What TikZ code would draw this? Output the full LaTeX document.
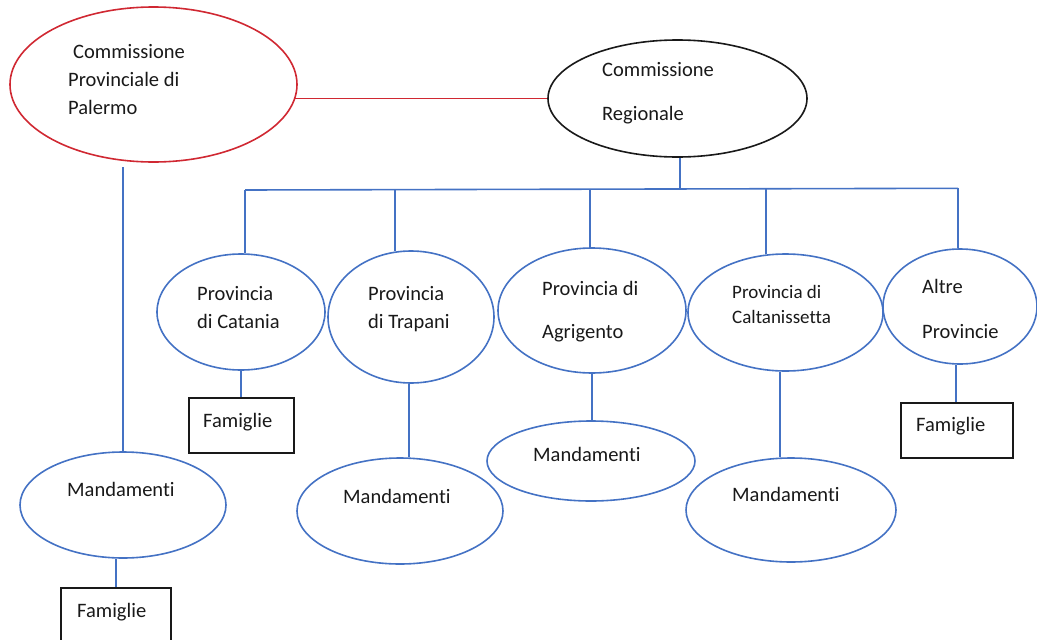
\documentclass[tikz,border=0pt]{standalone}
\usepackage{fontspec}
\setmainfont[Ligatures=NoCommon]{Carlito}
\usetikzlibrary{shapes.geometric,calc}
\definecolor{offblue}{RGB}{68,114,196}
\definecolor{offred}{RGB}{208,40,50}
\definecolor{txtcol}{RGB}{25,25,25}
\tikzset{
  ell/.style={ellipse, draw=offblue, line width=1.6pt, inner sep=0pt},
  famb/.style={rectangle, draw=txtcol, line width=1.7pt, inner sep=0pt},
  lbl/.style={anchor=base west, inner sep=0pt, text=txtcol, font=\fontsize{20.5}{24}\selectfont},
  slbl/.style={lbl, font=\fontsize{19}{22}\selectfont},
  conn/.style={draw=offblue, line width=1.6pt},
}
\begin{document}
\begin{tikzpicture}[x=1pt,y=-1pt]
\useasboundingbox (0,0) rectangle (1037,640);
\clip (0,0) rectangle (1037,640);
% top level
\node[ell, draw=offred, minimum width=287pt, minimum height=155pt] (pal) at (153.5,84.5) {};
\node[ell, draw=black!90, minimum width=259pt, minimum height=117pt] (reg) at (677.5,98.5) {};
\node[lbl] (tpal1) at (73,58) {Commissione};
\node[lbl] (tpal2) at (68,86) {Provinciale di};
\node[lbl] (tpal3) at (68,114) {Palermo};
\node[lbl] (treg1) at (602,76) {Commissione};
\node[lbl] (treg2) at (602,120) {Regionale};
% provinces
\node[ell, minimum width=168pt, minimum height=116pt] (cat) at (241,312) {};
\node[ell, minimum width=166pt, minimum height=132pt] (tra) at (411,317) {};
\node[ell, minimum width=188pt, minimum height=125pt] (agr) at (592,310.5) {};
\node[ell, minimum width=195pt, minimum height=117pt] (cal) at (785.5,312.5) {};
\node[ell, minimum width=154pt, minimum height=115pt] (alt) at (960,306.5) {};
\node[lbl] (tcat1) at (197,300) {Provincia};
\node[lbl] (tcat2) at (197,328) {di Catania};
\node[lbl] (ttra1) at (368,300) {Provincia};
\node[lbl] (ttra2) at (368,328) {di Trapani};
\node[lbl] (tagr1) at (542,295) {Provincia di};
\node[lbl] (tagr2) at (542,338) {Agrigento};
\node[slbl] (tcal1) at (732,298) {Provincia di};
\node[slbl] (tcal2) at (732,323) {Caltanissetta};
\node[lbl] (talt1) at (922,293) {Altre};
\node[lbl] (talt2) at (922,338) {Provincie};
% lower level
\node[ell, minimum width=206pt, minimum height=106pt] (mpal) at (123,505) {};
\node[ell, minimum width=206pt, minimum height=106pt] (mtra) at (400,511) {};
\node[ell, minimum width=208pt, minimum height=80pt] (magr) at (591,461) {};
\node[ell, minimum width=210pt, minimum height=104pt] (mcal) at (791,510) {};
\node[lbl] (tmpal) at (67,496) {Mandamenti};
\node[lbl] (tmtra) at (343,503) {Mandamenti};
\node[lbl] (tmagr) at (533,461) {Mandamenti};
\node[lbl] (tmcal) at (732,501) {Mandamenti};
\node[famb, minimum width=105pt, minimum height=55pt] (fcat) at (241.5,425.5) {};
\node[famb, minimum width=112pt, minimum height=55pt] (falt) at (957,430.5) {};
\node[famb, minimum width=110pt, minimum height=70pt] (fpal) at (116,623) {};
\node[lbl] (tfcat) at (203,427) {Famiglie};
\node[lbl] (tfalt) at (916,431) {Famiglie};
\node[lbl] (tfpal) at (77,617) {Famiglie};
% connectors
\draw[draw=offred, line width=1.3pt] (reg.west) -- ($(pal.east |- reg.west)+(-3,0)$);
\coordinate (hub) at (680,189);
\coordinate (d1) at (245,190);
\coordinate (d2) at (395,189.8);
\coordinate (d3) at (590,189.3);
\coordinate (d4) at (766,188.8);
\coordinate (d5) at (958,188.3);
\coordinate (p0) at (123,167);
\coordinate (x2) at (409,0);
\coordinate (x4) at (780,0);
\coordinate (x5) at (956,0);
\draw[conn] ([yshift=-0.5pt]hub |- reg.south) -- (hub);
\draw[conn] (d1) -- (d5);
\draw[conn] (d1) -- (cat.north -| d1);
\draw[conn] (d2) -- ([yshift=-1.2pt]tra.north -| d2);
\draw[conn] (d3) -- (agr.north -| d3);
\draw[conn] (d4) -- ([yshift=-1.2pt]cal.north -| d4);
\draw[conn] (d5) -- (alt.north -| d5);
\draw[conn] (cat.south) -- (cat.south |- fcat.north);
\draw[conn] (tra.south -| x2) -- (mtra.north -| x2);
\draw[conn] (agr.south) -- (agr.south |- magr.north);
\draw[conn] (cal.south -| x4) -- (mcal.north -| x4);
\draw[conn] (alt.south -| x5) -- (falt.north -| x5);
\draw[conn] (p0) -- (mpal.north);
\draw[conn] (fpal.north) -- (fpal.north |- mpal.south);
\end{tikzpicture}
\end{document}
